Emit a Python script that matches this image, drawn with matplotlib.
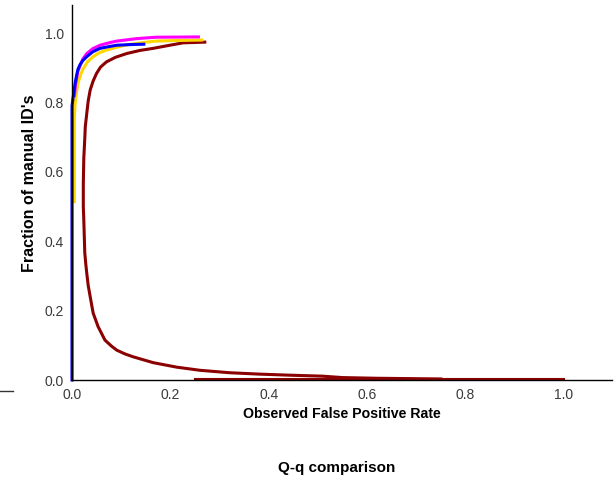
import matplotlib
matplotlib.use("Agg")
import matplotlib.pyplot as plt
from matplotlib.lines import Line2D

plt.rcParams["font.family"] = ["Liberation Sans", "DejaVu Sans"]

# values (observed FPR, fraction of manual IDs)
red_x = [0.270, 0.250, 0.226, 0.195, 0.165, 0.138, 0.111, 0.088, 0.070, 0.058,
         0.050, 0.043, 0.037, 0.033, 0.030, 0.027, 0.026, 0.024, 0.023, 0.023,
         0.024, 0.026, 0.028, 0.030, 0.033, 0.037, 0.043, 0.053, 0.067, 0.080,
         0.091, 0.108, 0.124, 0.165, 0.213, 0.260, 0.320, 0.380, 0.440, 0.510,
         0.550, 0.620, 0.750]
red_y = [0.974, 0.973, 0.972, 0.964, 0.956, 0.950, 0.941, 0.930, 0.917, 0.902,
         0.884, 0.862, 0.836, 0.805, 0.768, 0.730, 0.696, 0.640, 0.568, 0.500,
         0.461, 0.366, 0.335, 0.308, 0.272, 0.240, 0.193, 0.154, 0.115, 0.098,
         0.086, 0.075, 0.067, 0.050, 0.037, 0.028, 0.021, 0.017, 0.014, 0.011,
         0.007, 0.005, 0.003]
red_tail_x = [0.25, 1.0]
red_tail_y = [0.002, 0.002]

yellow_x = [0.0047, 0.0047, 0.006, 0.009, 0.013, 0.018, 0.023, 0.032, 0.043,
            0.055, 0.070, 0.090, 0.111, 0.140, 0.170, 0.220, 0.264]
yellow_y = [0.514, 0.750, 0.793, 0.830, 0.860, 0.882, 0.898, 0.918, 0.932,
            0.943, 0.951, 0.959, 0.966, 0.972, 0.977, 0.979, 0.980]

magenta_x = [0.005, 0.007, 0.0095, 0.012, 0.016, 0.022, 0.030, 0.042, 0.057,
             0.075, 0.091, 0.131, 0.169, 0.257]
magenta_y = [0.820, 0.850, 0.870, 0.890, 0.905, 0.925, 0.941, 0.955, 0.965,
             0.972, 0.977, 0.984, 0.988, 0.989]

blue_x = [0.0, 0.0, 0.002, 0.004, 0.0065, 0.0095, 0.012, 0.016, 0.022, 0.030,
          0.042, 0.057, 0.075, 0.091, 0.120, 0.146]
blue_y = [0.0, 0.790, 0.812, 0.831, 0.857, 0.879, 0.895, 0.908, 0.921, 0.932,
          0.946, 0.956, 0.961, 0.965, 0.967, 0.968]

fig = plt.figure(figsize=(6.15, 4.82), dpi=100)
ax = fig.add_axes([72 / 615, 1 - 380 / 482, 540 / 615, 375 / 482])

lw = 2.2
ax.plot(red_tail_x, red_tail_y, color="#8B0000", lw=1.5, clip_on=False)
ax.plot(red_x, red_y, color="#8B0000", lw=lw, clip_on=False,
        solid_joinstyle="round")
ax.plot(yellow_x, yellow_y, color="#FFD700", lw=lw, clip_on=False,
        solid_joinstyle="round")
ax.plot(magenta_x, magenta_y, color="#FF00FF", lw=lw, clip_on=False,
        solid_joinstyle="round")
ax.plot(blue_x, blue_y, color="#0000FF", lw=lw, clip_on=False,
        solid_joinstyle="round")

ax.set_xlim(0, 1.098)
ax.set_ylim(0, 1.081)
ax.set_xticks([0.0, 0.2, 0.4, 0.6, 0.8, 1.0])
ax.set_yticks([0.0, 0.2, 0.4, 0.6, 0.8, 1.0])
ax.tick_params(length=0, labelsize=10, colors="#3a3a3a", pad=6)
for s in ["top", "right"]:
    ax.spines[s].set_visible(False)
for s in ["left", "bottom"]:
    ax.spines[s].set_color("black")
    ax.spines[s].set_linewidth(1.0)

ax.set_xlabel("Observed False Positive Rate", fontsize=10.2, fontweight="bold",
              va="center")
ax.set_ylabel("Fraction of manual ID's", fontsize=11.5, fontweight="bold",
              va="center")
ax.xaxis.set_label_coords((342 - 72) / 540, (380 - 414) / 375)
ax.yaxis.set_label_coords((30 - 72) / 540, (380 - 183) / 375)

fig.text(337 / 615, 1 - 468 / 482, "Q-q comparison", fontsize=11,
         fontweight="bold", ha="center", va="center")

# short stray dash at lower left
fig.add_artist(Line2D([0, 13 / 615], [1 - 391 / 482, 1 - 391 / 482],
                      color="#333333", lw=1.0))

fig.savefig("out.png", dpi=100)
